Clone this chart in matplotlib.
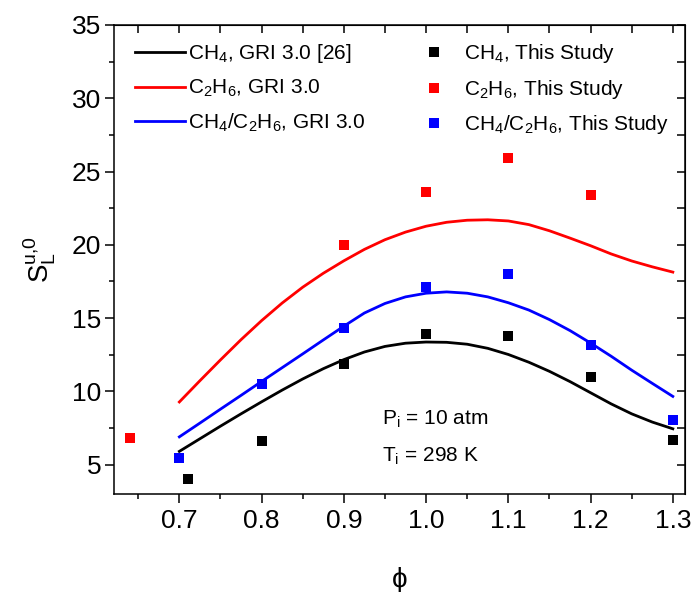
import numpy as np
import matplotlib
matplotlib.use("Agg")
import matplotlib.pyplot as plt
from matplotlib.ticker import MultipleLocator, NullFormatter
from matplotlib.lines import Line2D

plt.rcParams['font.family'] = ['Liberation Sans', 'DejaVu Sans']
plt.rcParams['mathtext.fontset'] = 'custom'
plt.rcParams['mathtext.rm'] = 'Liberation Sans'
plt.rcParams['mathtext.it'] = 'Liberation Sans:italic'
plt.rcParams['mathtext.bf'] = 'Liberation Sans:bold'

# Measured laminar flame speeds (This Study)
phi_ch4 = [0.71, 0.8, 0.9, 1.0, 1.1, 1.2, 1.3]
sl_ch4 = [4.0, 6.6, 11.9, 13.9, 13.8, 11.0, 6.7]
phi_c2h6 = [0.64, 0.9, 1.0, 1.1, 1.2]
sl_c2h6 = [6.85, 20.0, 23.6, 25.9, 23.4]
phi_mix = [0.7, 0.8, 0.9, 1.0, 1.1, 1.2, 1.3]
sl_mix = [5.45, 10.5, 14.35, 17.1, 18.0, 13.2, 8.05]

# GRI 3.0 predictions
phi_gri = [0.70, 0.725, 0.75, 0.775, 0.80, 0.825, 0.85, 0.875, 0.90, 0.925,
           0.95, 0.975, 1.00, 1.025, 1.05, 1.075, 1.10, 1.125, 1.15, 1.175,
           1.20, 1.225, 1.25, 1.275, 1.30]
gri_ch4 = [5.91, 6.77, 7.63, 8.47, 9.29, 10.09, 10.85, 11.55, 12.17, 12.69,
           13.07, 13.29, 13.37, 13.35, 13.22, 12.94, 12.52, 11.99, 11.37, 10.67,
           9.91, 9.15, 8.47, 7.91, 7.45]
gri_c2h6 = [9.28, 10.73, 12.15, 13.53, 14.83, 16.03, 17.11, 18.06, 18.91, 19.69,
            20.35, 20.87, 21.27, 21.54, 21.68, 21.71, 21.63, 21.38, 20.96, 20.46,
            19.94, 19.38, 18.9, 18.5, 18.14]
gri_mix = [6.9, 7.84, 8.79, 9.73, 10.68, 11.62, 12.56, 13.51, 14.45, 15.35,
           16.0, 16.45, 16.7, 16.79, 16.7, 16.45, 16.05, 15.55, 14.9, 14.15,
           13.3, 12.4, 11.45, 10.55, 9.66]

fig = plt.figure(figsize=(6.94, 5.92), dpi=100)
ax = fig.add_axes([0.1648, 0.1655, 0.822, 0.7923])

lw = 2.0
ax.plot(phi_gri, gri_ch4, color='black', lw=lw)
ax.plot(phi_gri, gri_c2h6, color='#ff0000', lw=lw)
ax.plot(phi_gri, gri_mix, color='#0000ff', lw=lw)

ms = 7.8
ax.plot(phi_ch4, sl_ch4, 's', color='black', ms=ms, mew=0, ls='none')
ax.plot(phi_c2h6, sl_c2h6, 's', color='#ff0000', ms=ms, mew=0, ls='none')
ax.plot(phi_mix, sl_mix, 's', color='#0000ff', ms=ms, mew=0, ls='none')

ax.set_xlim(0.621, 1.3146)
ax.set_ylim(3, 35)

ax.xaxis.set_major_locator(MultipleLocator(0.1))
ax.xaxis.set_minor_locator(MultipleLocator(0.05))
ax.yaxis.set_major_locator(MultipleLocator(5))
ax.yaxis.set_minor_locator(MultipleLocator(2.5))
ax.xaxis.set_major_formatter(plt.FuncFormatter(lambda v, p: f"{v:.1f}"))

ax.tick_params(which='major', direction='out', length=6.5, width=1.1,
               labelsize=19, top=False, right=False)
ax.tick_params(which='minor', direction='out', length=3.8, width=1.1,
               top=False, right=False)
ax.tick_params(axis='x', which='major', pad=4)
ax.tick_params(axis='y', which='major', pad=3)
for s in ax.spines.values():
    s.set_linewidth(1.1)

# inward ticks on the opposite spines
top = ax.secondary_xaxis('top')
top.xaxis.set_major_locator(MultipleLocator(0.05))
top.xaxis.set_major_formatter(NullFormatter())
top.tick_params(direction='in', length=5.5, width=1.1)
right = ax.secondary_yaxis('right')
right.yaxis.set_major_locator(MultipleLocator(2.5))
right.yaxis.set_major_formatter(NullFormatter())
right.tick_params(direction='in', length=5.5, width=1.1)

ax.set_xlabel('ϕ', fontsize=20, labelpad=25)
ax.set_ylabel(r'S$_\mathregular{L}^\mathregular{u{,}0}$', fontsize=20, labelpad=10)

lab_fs = 15
line_handles = [Line2D([], [], color='black', lw=lw),
                Line2D([], [], color='#ff0000', lw=lw),
                Line2D([], [], color='#0000ff', lw=lw)]
line_labels = [r'CH$_\mathregular{4}$, GRI 3.0 [26]',
               r'C$_\mathregular{2}$H$_\mathregular{6}$, GRI 3.0',
               r'CH$_\mathregular{4}$/C$_\mathregular{2}$H$_\mathregular{6}$, GRI 3.0']
leg1 = ax.legend(line_handles, line_labels, loc='upper left',
                 bbox_to_anchor=(0.0356, 0.963), frameon=False, fontsize=lab_fs,
                 handlelength=2.4, handletextpad=0.18, borderaxespad=0,
                 borderpad=0, labelspacing=0.6)
ax.add_artist(leg1)

mark_handles = [Line2D([], [], marker='s', color='black', ms=ms, mew=0, ls='none'),
                Line2D([], [], marker='s', color='#ff0000', ms=ms, mew=0, ls='none'),
                Line2D([], [], marker='s', color='#0000ff', ms=ms, mew=0, ls='none')]
mark_labels = [r'CH$_\mathregular{4}$, This Study',
               r'C$_\mathregular{2}$H$_\mathregular{6}$, This Study',
               r'CH$_\mathregular{4}$/C$_\mathregular{2}$H$_\mathregular{6}$, This Study']
ax.legend(mark_handles, mark_labels, loc='upper left',
          bbox_to_anchor=(0.542, 0.963), frameon=False, fontsize=lab_fs,
          handlelength=1.0, handletextpad=0.94, borderaxespad=0,
          borderpad=0, labelspacing=0.6)

ax.text(0.946, 7.73, r'P$_\mathregular{i}$ = 10 atm', fontsize=15)
ax.text(0.946, 5.21, r'T$_\mathregular{i}$ = 298 K', fontsize=15)

fig.savefig('out.png', dpi=100)
